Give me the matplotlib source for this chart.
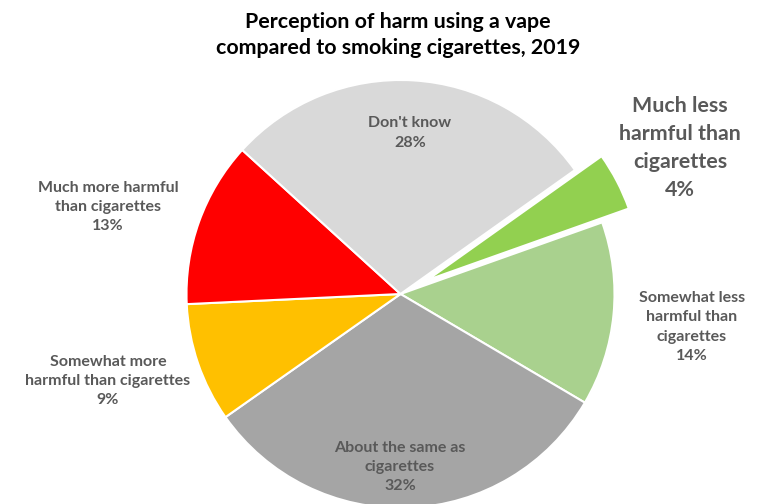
import matplotlib.pyplot as plt

plt.rcParams["font.family"] = ["Lato", "DejaVu Sans"]

# slices in drawing order, clockwise from the exploded one
categories = ["Much less harmful than cigarettes", "Somewhat less harmful than cigarettes",
              "About the same as cigarettes", "Somewhat more harmful than cigarettes",
              "Much more harmful than cigarettes", "Don't know"]
shares = [4.4, 13.9, 31.75, 9.0, 12.5, 28.4]
pct_labels = ["4%", "14%", "32%", "9%", "13%", "28%"]
colors = ["#92D050", "#A9D18E", "#A5A5A5", "#FFC000", "#FF0000", "#D9D9D9"]

W, H = 761, 504
fig = plt.figure(figsize=(W / 100, H / 100), dpi=100)
ax = fig.add_axes([0, 0, 1, 1])

cx, cy, r = 400.5, H - 294, 214
# explode is in data units here (pixels)
ax.pie(shares, colors=colors, startangle=35.4, counterclock=False,
       explode=[30, 0, 0, 0, 0, 0], center=(cx, cy), radius=r,
       wedgeprops=dict(edgecolor="white", linewidth=1.5))
ax.set_xlim(0, W)
ax.set_ylim(0, H)
ax.set_aspect("equal")
ax.axis("off")

# title
fig.text(398 / W, 1 - 35 / H, "Perception of harm using a vape\ncompared to smoking cigarettes, 2019",
         ha="center", va="center", fontsize=15.4, fontweight="bold", color="#000000",
         linespacing=1.32)

# labels: (text lines, x, y in picture pixels, size, spacing)
label_pos = [
    ("Much less\nharmful than\ncigarettes", 680, 148, 15.4, 1.48),
    ("Somewhat less\nharmful than\ncigarettes", 692, 327, 11.5, 1.5),
    ("About the same as\ncigarettes", 400, 467, 11.5, 1.5),
    ("Somewhat more\nharmful than cigarettes", 108, 381, 11.5, 1.5),
    ("Much more harmful\nthan cigarettes", 108, 207, 11.5, 1.5),
    ("Don't know", 410, 133, 11.5, 1.5),
]
for (txt, x, y, fs, ls), pct in zip(label_pos, pct_labels):
    ax.text(x, H - y, txt + "\n" + pct, ha="center", va="center", fontsize=fs,
            fontweight="bold", color="#595959", linespacing=ls)

plt.savefig("out.png", dpi=100)
